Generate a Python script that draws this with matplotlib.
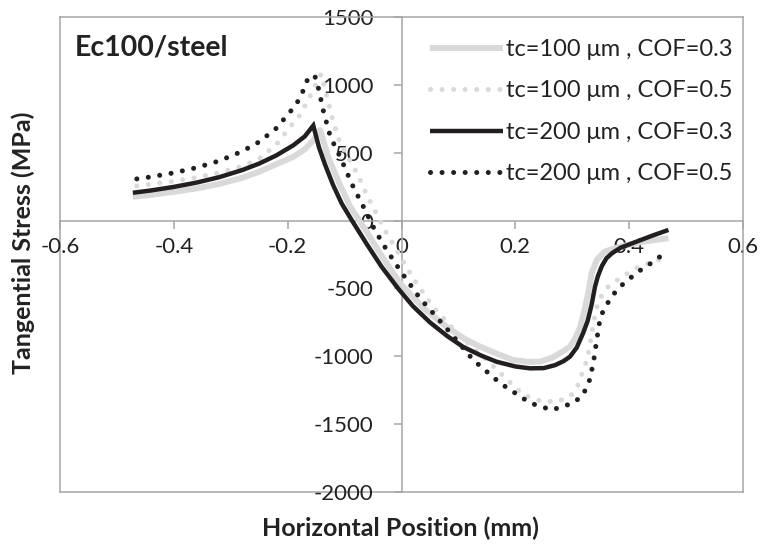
import matplotlib
matplotlib.use("Agg")
import matplotlib.pyplot as plt

plt.rcParams['font.family'] = ['Lato', 'DejaVu Sans']

# --- data ---
x_100_03 = [-0.472, -0.44, -0.40, -0.36, -0.32, -0.28, -0.25, -0.22, -0.19, -0.17, -0.155, -0.143,
            -0.136, -0.129, -0.11, -0.09, -0.06, -0.038, -0.003, 0.04, 0.079, 0.11, 0.138,
            0.17, 0.196, 0.22, 0.243, 0.265, 0.285, 0.296, 0.305, 0.314, 0.322, 0.328, 0.334,
            0.343, 0.357, 0.384, 0.425, 0.469]
y_100_03 = [175, 190, 212, 237, 270, 315, 360, 415, 470, 525, 590, 667,
            570, 471, 280, 102, -90, -240, -460, -650, -782, -870, -929,
            -985, -1027, -1040, -1040, -1010, -960, -929, -870, -782, -650, -536, -388,
            -290, -229, -192, -155, -130]

x_100_05 = [-0.465, -0.44, -0.40, -0.36, -0.32, -0.28, -0.25, -0.22, -0.19, -0.178, -0.161, -0.141,
            -0.131, -0.12, -0.108, -0.09, -0.075, -0.061, -0.045, -0.032, -0.011, 0.02,
            0.055, 0.103, 0.15, 0.185, 0.214, 0.245, 0.273, 0.296, 0.308, 0.316, 0.322, 0.328,
            0.337, 0.343, 0.349, 0.36, 0.375, 0.393, 0.413, 0.44, 0.471]
y_100_05 = [255, 268, 290, 318, 352, 400, 455, 560, 720, 780, 913, 1080,
            913, 729, 570, 440, 320, 190, 60, -50, -200, -423,
            -634, -855, -1027, -1170, -1285, -1330, -1334, -1297, -1235, -1140, -1077, -990,
            -760, -640, -573, -499, -450, -401, -350, -305, -266]

x_200_03 = [-0.472, -0.44, -0.40, -0.36, -0.32, -0.28, -0.25, -0.22, -0.19, -0.17, -0.155,
            -0.145, -0.135, -0.12, -0.105, -0.087, -0.06, -0.035, -0.006, 0.02, 0.05, 0.08,
            0.108, 0.14, 0.167, 0.2, 0.226, 0.25, 0.27, 0.285, 0.296, 0.308, 0.319, 0.327,
            0.334, 0.340, 0.345, 0.352, 0.360, 0.37, 0.385, 0.413, 0.44, 0.469]
y_200_03 = [205, 222, 248, 280, 320, 372, 420, 480, 555, 620, 700,
            540, 420, 260, 125, 0, -180, -340, -500, -630, -750, -850,
            -930, -995, -1040, -1075, -1089, -1087, -1065, -1035, -1003, -935, -830, -740,
            -620, -487, -410, -335, -278, -240, -200, -155, -112, -69]

x_200_05 = [-0.465, -0.44, -0.40, -0.36, -0.32, -0.28, -0.25, -0.22, -0.19, -0.178, -0.163, -0.152,
            -0.146, -0.137, -0.125, -0.108, -0.085, -0.064, -0.047, -0.026, -0.003, 0.032,
            0.079, 0.126, 0.173, 0.226, 0.264, 0.302, 0.319, 0.330, 0.337, 0.343, 0.349,
            0.355, 0.362, 0.369, 0.384, 0.400, 0.416, 0.434, 0.450, 0.467]
y_200_05 = [307, 322, 352, 390, 440, 510, 580, 680, 830, 903, 1062, 1062,
            976, 802, 618, 471, 250, 78, -69, -217, -364, -570,
            -794, -1027, -1197, -1344, -1396, -1344, -1285, -1180, -1052, -880, -720,
            -660, -610, -560, -487, -430, -376, -327, -278, -229]

labels = ["tc=100 \u03bcm , COF=0.3", "tc=100 \u03bcm , COF=0.5",
          "tc=200 \u03bcm , COF=0.3", "tc=200 \u03bcm , COF=0.5"]
x_ticks = [-0.6, -0.4, -0.2, 0, 0.2, 0.4, 0.6]
x_ticklabels = ["-0.6", "-0.4", "-0.2", "0", "0.2", "0.4", "0.6"]
y_ticks = [-2000, -1500, -1000, -500, 0, 500, 1000, 1500]
y_ticklabels = ["-2000", "-1500", "-1000", "-500", "0", "500", "1000", "1500"]

fig = plt.figure(figsize=(7.62, 5.44), dpi=100)
ax = fig.add_axes([60/762, 52/544, 683/762, 475/544])

light = "#d9d9d9"
dark = "#231f20"
ax.plot(x_100_03, y_100_03, color=light, lw=4.3, solid_joinstyle='round',
        solid_capstyle='butt', label=labels[0], zorder=3)
ax.plot(x_100_05, y_100_05, color=light, lw=3.6, linestyle=(0, (0.01, 2.3)),
        dash_capstyle='round', label=labels[1], zorder=3)
ax.plot(x_200_03, y_200_03, color=dark, lw=3.2, solid_joinstyle='miter',
        solid_capstyle='butt', label=labels[2], zorder=4)
ax.plot(x_200_05, y_200_05, color=dark, lw=3.6, linestyle=(0, (0.01, 2.3)),
        dash_capstyle='round', label=labels[3], zorder=4)

ax.set_xlim(-0.6, 0.6)
ax.set_ylim(-2000, 1500)

grey = "#a6a6a6"
for s in ['left', 'bottom']:
    ax.spines[s].set_position(('data', 0))
for s in ax.spines.values():
    s.set_color(grey)
    s.set_linewidth(1.1)
ax.axvline(-0.6, color=grey, lw=1.1, clip_on=False, zorder=1)
ax.axhline(-2000, color=grey, lw=1.1, clip_on=False, zorder=1)

ax.set_xticks(x_ticks)
ax.set_xticklabels(x_ticklabels)
ax.set_yticks(y_ticks)
ax.set_yticklabels(y_ticklabels)
ax.tick_params(axis='both', direction='out', length=6, width=1.1, color=grey,
               labelsize=16, labelcolor="#222222")
ax.tick_params(axis='x', pad=6)
ax.tick_params(axis='y', pad=14)

ax.text(0.022, 0.935, "Ec100/steel", transform=ax.transAxes, fontsize=20.5,
        fontweight='bold', color="#222222", va='center', ha='left')

fig.text(400/762, 1 - 528/544, "Horizontal Position (mm)", fontsize=18,
         fontweight='bold', ha='center', va='center', color="#222222")
fig.text(23/762, 1 - 243/544, "Tangential Stress (MPa)", fontsize=18,
         fontweight='bold', ha='center', va='center', rotation=90, color="#222222")

leg = ax.legend(loc='upper left', bbox_to_anchor=(0.542, 0.954), frameon=False,
                fontsize=17, handlelength=3.1, handletextpad=0.12, labelspacing=0.87,
                borderaxespad=0, borderpad=0)
for t in leg.get_texts():
    t.set_color("#222222")

fig.savefig("out.png", dpi=100)
